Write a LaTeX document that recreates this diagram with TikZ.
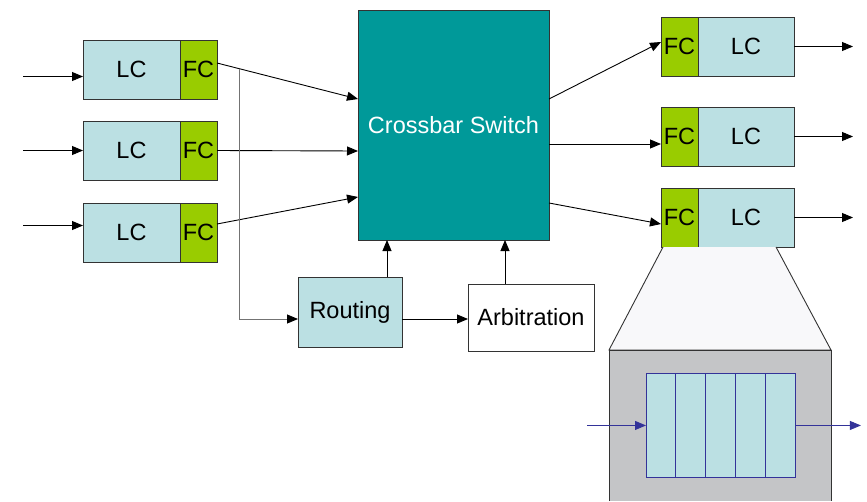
\documentclass[tikz,border=0pt]{standalone}
\usepackage{fontspec}
\setmainfont{Liberation Sans}
\usetikzlibrary{arrows.meta}
\usetikzlibrary{calc}
\tikzset{>={Triangle[length=11pt,width=9pt]}}
\definecolor{lcBlue}{HTML}{BBE0E3}
\definecolor{fcGreen}{HTML}{99CC00}
\definecolor{xbarTeal}{HTML}{009999}
\definecolor{zoomGray}{HTML}{C4C5C7}
\definecolor{zoomPale}{HTML}{F8F8FA}
\definecolor{queueBlue}{HTML}{333399}
\tikzset{
  card/.style={draw=black!80, line width=0.9pt, inner sep=0pt, outer sep=0pt, anchor=north west},
  lc/.style={card, fill=lcBlue, minimum width=97pt, minimum height=59pt},
  fc/.style={card, fill=fcGreen, minimum width=37pt, minimum height=59pt},
}

\begin{document}
\begin{tikzpicture}[x=1pt, y=-1pt, font=\fontsize{23.5}{27}\selectfont, line width=0.9pt]
    \useasboundingbox (0,0) rectangle (867,501);

    % input line cards
    \foreach \i/\y/\d in {1/40/7, 2/121/0, 3/203/-7} {
      \node[lc] (inLC\i) at (83,\y) {LC};
      \node[fc] (inFC\i) at (180,\y) {FC};
      \draw[<-] ([yshift=-\d pt]inLC\i.west) -- ++(-60,0);
    }

    \node[card, fill=xbarTeal, text=white, minimum width=191pt, minimum height=230pt] (xbar) at (358,10) {Crossbar Switch};

    % output line cards
    \foreach \i/\y in {1/17, 2/107, 3/188} {
      \node[fc] (outFC\i) at (661,\y) {FC};
      \node[lc, minimum width=96pt] (outLC\i) at (698,\y) {LC};
      \draw[->] (outLC\i.east) -- ++(59,0);
    }

    % fabric connections
    \foreach \i/\s/\e in {1/6.5/89, 2/0/141, 3/8.5/187}
      \draw[->] ([yshift=\s pt]inFC\i.east) -- ($(xbar.north west)+(0,\e)$);
    \foreach \i/\s/\e in {1/89/4.5, 2/134/-7.5, 3/193/-6.5}
      \draw[->] ($(xbar.north east)+(0,\s)$) -- ([yshift=\e pt]outFC\i.west);

    \node[card, fill=lcBlue, minimum width=104pt, minimum height=70pt] (routing) at (298,277) {Routing};
    \node[card, fill=white, minimum width=126pt, minimum height=67pt] (arbit) at (468,284) {Arbitration};

    \coordinate (tap) at ($([yshift=6.5pt]inFC1.east)!0.156!(xbar.north west |- 0,99)$);
    \draw[black!55, -{Triangle[length=11pt,width=9pt,color=black]}] (tap) |- ([yshift=-7pt]routing.west);
    \draw[->] ([yshift=-7pt]routing.east) -- ([yshift=-7pt]routing.east -| arbit.west);
    \draw[->] ([xshift=37pt]routing.north) -- ([xshift=37pt]routing.north |- xbar.south);
    \draw[->] ([xshift=-26pt]arbit.north) -- ([xshift=-26pt]arbit.north |- xbar.south);

    % zoom into an output queue
    \filldraw[fill=zoomPale, draw=black!80] ($(outFC3.south west)+(2,0)$) -- (609,350) -- (831,350) -- ($(outLC3.south east)+(-18,0)$);
    \fill[zoomGray] (609,350) rectangle (831,501);
    \draw[black!80] (609,501) -- (609,350) -- (831,350) -- (831,501);

    \node[draw=queueBlue, fill=lcBlue, inner sep=0pt, minimum width=149pt, minimum height=104pt, anchor=north west] (queue) at (646,373) {};
    \foreach \k in {1,...,4}
      \draw[queueBlue] ($(queue.north west)+(\k*29.8,0)$) -- ($(queue.south west)+(\k*29.8,0)$);
    \draw[queueBlue, <-] (queue.west) -- ++(-59,0);
    \draw[queueBlue, ->] (queue.east) -- ++(65,0);
\end{tikzpicture}
\end{document}
